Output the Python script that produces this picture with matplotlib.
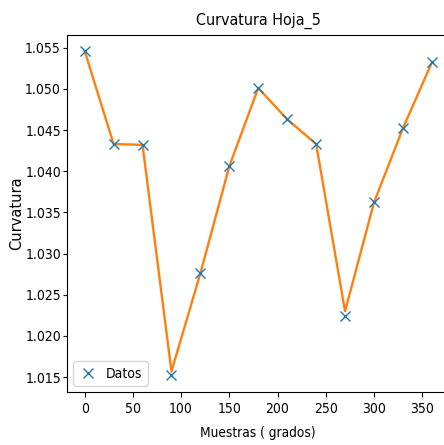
import matplotlib
matplotlib.use("Agg")
import matplotlib.pyplot as plt

# Muestras angulares (grados) y curvatura medida
grados = [0, 30, 60, 90, 120, 150, 180, 210, 240, 270, 300, 330, 360]
curvatura = [1.0546, 1.0433, 1.0432, 1.0152, 1.0277, 1.0406, 1.0501,
             1.0463, 1.0433, 1.0224, 1.0362, 1.0452, 1.0532]
# Curva ajustada sobre las mismas muestras
ajuste = [1.0546, 1.0433, 1.0432, 1.0157, 1.0276, 1.0406, 1.0501,
          1.0463, 1.0433, 1.0230, 1.0362, 1.0452, 1.0532]

plt.rcParams["font.family"] = ["DejaVu Sans"]
plt.rcParams["font.stretch"] = "condensed"

fig = plt.figure(figsize=(4.44, 4.45), dpi=100)
ax = fig.add_axes([67.3 / 444, 1 - 391.7 / 445, (449.2 - 67.3) / 444, (391.7 - 34.7) / 445])

ax.plot(grados, curvatura, "x", color="#1f77b4", markersize=6.5, label="Datos", zorder=3)
ax.plot(grados, ajuste, "-", color="#ff7f0e", linewidth=1.7, zorder=2)

ax.set_title("Curvatura Hoja_5", fontsize=11.5, pad=7)
ax.set_xlabel("Muestras ( grados)", fontsize=9.8, labelpad=7)
ax.set_ylabel("Curvatura", fontsize=10.5, fontstretch="normal", labelpad=1)
ax.set_xticks([0, 50, 100, 150, 200, 250, 300, 350])
ax.tick_params(axis="y", labelsize=10, pad=1.5, length=3)
ax.tick_params(axis="x", labelsize=10, pad=4, length=3.5)
ax.legend(loc="lower left", fontsize=10, handlelength=1.4, handletextpad=0.6,
          borderaxespad=0.4)

fig.savefig("out.png", dpi=100)
